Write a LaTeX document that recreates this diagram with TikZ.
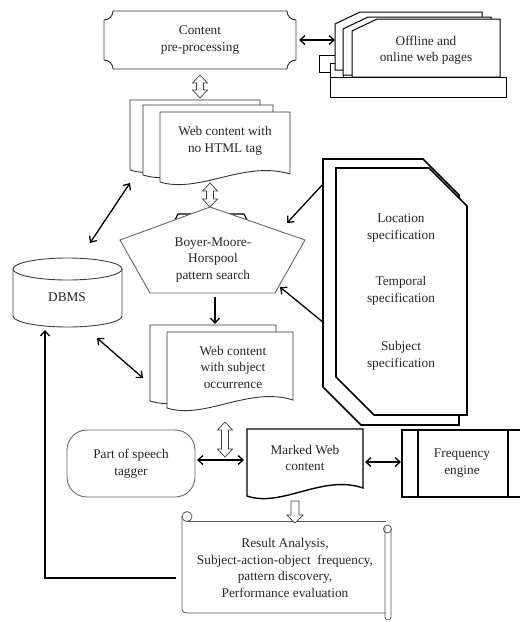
\documentclass[tikz,border=0pt]{standalone}
\usepackage{fontspec}
\setmainfont{Liberation Serif}
\usetikzlibrary{arrows.meta,calc}

\tikzset{
  lbl/.style={align=center, text=black!85, font=\fontsize{13.3}{16.5}\selectfont, inner sep=0pt},
  shp/.style={draw=black!80, fill=white, line width=0.9pt},
  heavy/.style={draw=black, fill=white, line width=1.6pt},
  link/.style={line width=1.3pt, {Straight Barb[length=5pt,width=9pt]}-{Straight Barb[length=5pt,width=9pt]}},
  linkto/.style={line width=1.3pt, -{Straight Barb[length=5pt,width=9pt]}},
  hollowboth/.style={draw=black!75, fill=white, line width=0.7pt, to path={
      let \p1=(\tikztostart), \p2=(\tikztotarget) in
      (\x1,\y1) -- (\x1+7.5pt,\y1-8pt) -- (\x1+3.5pt,\y1-8pt) -- (\x1+3.5pt,\y2+8pt)
      -- (\x1+7.5pt,\y2+8pt) -- (\x1,\y2) -- (\x1-7.5pt,\y2+8pt) -- (\x1-3.5pt,\y2+8pt)
      -- (\x1-3.5pt,\y1-8pt) -- (\x1-7.5pt,\y1-8pt) -- cycle}},
  hollowdown/.style={draw=black!75, fill=white, line width=0.7pt, to path={
      let \p1=(\tikztostart), \p2=(\tikztotarget) in
      (\x1-4pt,\y1) -- (\x1+4pt,\y1) -- (\x1+4pt,\y2+8pt) -- (\x1+8pt,\y2+8pt) -- (\x1,\y2)
      -- (\x1-8pt,\y2+8pt) -- (\x1-4pt,\y2+8pt) -- cycle}},
}

% page with a wavy lower edge
\newcommand{\docpage}[5][shp]{%
  \path[#1] (#2,#3) -- (#4,#3) -- (#4,#5)
    .. controls ({#4-0.35*(#4-#2)},{#5-14}) and ({#2+0.3*(#4-#2)},{#5+20}) .. (#2,{#5+8}) -- cycle;}

\begin{document}
\begin{tikzpicture}[x=1pt, y=-1pt]
    \useasboundingbox (0,0) rectangle (520,622);

    % Content pre-processing (plaque)
    \path[shp] (113,11) -- (287,11) arc[start angle=180, end angle=90, radius=9]
        -- (296,60) arc[start angle=270, end angle=180, radius=9]
        -- (113,69) arc[start angle=0, end angle=-90, radius=9]
        -- (104,20) arc[start angle=90, end angle=0, radius=9] -- cycle;
    \node[lbl] (prep) at (200,40) {Content\\pre-processing};

    % Offline and online web pages (stacked cards)
    \path[shp, draw=black, line width=1pt] (319,55) rectangle (335,72);
    \path[shp, draw=black, line width=1pt] (330,63) rectangle (343,77);
    \path[shp, draw=black, line width=1pt] (335,24) -- (360,12) -- (482,12) -- (482,70) -- (335,70) -- cycle;
    \path[shp, draw=black, line width=1pt] (343,29) -- (368,17) -- (491,17) -- (491,75) -- (343,75) -- cycle;
    \path[shp, draw=black, line width=1pt] (352,31) -- (377,19) -- (500,19) -- (500,77) -- (352,77) -- cycle;
    \path[shp, draw=black, line width=1pt] (330,77) rectangle (506,97);
    \node[lbl] (web) at (426,50) {Offline and\\online web pages};

    \coordinate (prepR) at (299,40);
    \coordinate (webL) at (335,40);
    \draw[link] (prepR) -- (webL);

    % Web content with no HTML tag
    \docpage{130}{100}{260}{162}
    \docpage{143}{105}{273}{167}
    \docpage{160}{112}{290}{174}
    \node[lbl] (clean) at (225,141) {Web content with\\no HTML tag};

    \coordinate (prepB) at (200,75);
    \coordinate (cleanT) at (200,98);
    \path[hollowboth] (prepB) to (cleanT);

    % Boyer-Moore-Horspool pentagon
    \draw[line width=1.3pt] (174,222) -- (178,214) -- (244,214) -- (248,222);
    \path[shp, draw=black!60] (210,207) -- (305,240) -- (275,293) -- (150,293) -- (120,240) -- cycle;
    \node[lbl] (bmh) at (213,260) {Boyer-Moore-\\Horspool\\pattern search};

    \coordinate (cleanB) at (210,183);
    \coordinate (bmhT) at (210,207);
    \path[hollowboth] (cleanB) to (bmhT);

    % DBMS
    \path[shp, draw=black!75] (13,269) -- (13,316) arc[start angle=180, end angle=0, x radius=54.5, y radius=11] -- (122,269);
    \draw[black!75, line width=0.9pt] (67.5,269) ellipse[x radius=54.5, y radius=11];
    \node[lbl] (dbms) at (67,297) {DBMS};

    % Location / temporal / subject specification
    \path[heavy] (323,159) -- (423,159) -- (459,195) -- (459,425) -- (361,425) -- (323,387) -- cycle;
    \path[heavy] (336,168) -- (429,168) -- (467,206) -- (467,415) -- (374,415) -- (336,377) -- cycle;
    \node[lbl] (loc) at (401,228) {Location\\specification};
    \node[lbl] (temp) at (401,291) {Temporal\\specification};
    \node[lbl] (subj) at (401,356) {Subject\\specification};

    \coordinate (specA) at (324,183);
    \coordinate (bmhA) at (287,223);
    \coordinate (specB) at (324,323);
    \coordinate (bmhB) at (280,287);
    \draw[linkto] (specA) -- (bmhA);
    \draw[linkto] (specB) -- (bmhB);

    % Web content with subject occurrence
    \docpage{150}{325}{276}{393}
    \docpage{167}{332}{293}{400}
    \node[lbl] (occ) at (233,367) {Web content\\with subject\\occurrence};

    \coordinate (bmhD) at (215,297);
    \coordinate (occT) at (215,324);
    \draw[linkto] (bmhD) -- (occT);

    % DBMS links
    \coordinate (dbmsA) at (90,243);
    \coordinate (cleanL) at (130,183);
    \coordinate (dbmsB) at (97,338);
    \coordinate (occL) at (143,378);
    \draw[link] (dbmsA) -- (cleanL);
    \draw[link] (dbmsB) -- (occL);

    % Part of speech tagger, marked content, frequency engine
    \node[lbl, shp, draw=black!60, rounded corners=20pt, minimum width=128pt, minimum height=67pt]
        (pos) at (131,463.5) {Part of speech\\tagger};
    \docpage[heavy, line width=1.4pt]{247}{429}{363}{488}
    \node[lbl] (marked) at (305,458) {Marked Web\\content};
    \path[heavy, line width=1.4pt] (402,430) rectangle (530,497);
    \draw[line width=1.4pt] (418,430) -- (418,497) (508,430) -- (508,497);
    \node[lbl] (freq) at (462,463) {Frequency\\engine};

    \coordinate (occB) at (225,422);
    \coordinate (markedT) at (225,457);
    \path[hollowboth] (occB) to (markedT);

    \coordinate (posR) at (197,460);
    \coordinate (markedL) at (244,460);
    \coordinate (markedR) at (365,462);
    \coordinate (freqL) at (401,462);
    \draw[link] (posR) -- (markedL);
    \draw[link] (markedR) -- (freqL);

    % Result analysis (scroll)
    \path[draw=black!65, line width=0.8pt, rounded corners=4pt] (182,516) -- (182,613) -- (386,613);
    \draw[black!65, line width=0.8pt] (187,521.5) -- (386,521.5);
    \path[draw=black!65, line width=0.8pt, rounded corners=3pt] (385,527) -- (385,620) -- (391,620) -- (391,529);
    \draw[black!65, line width=0.8pt] (387.5,529) circle[radius=4];
    \draw[black!65, line width=0.8pt] (187,516.5) circle[radius=5];
    \node[lbl] (result) at (285,568) {Result Analysis,\\Subject-action-object\ \ frequency,\\pattern discovery,\\Performance evaluation};

    \coordinate (markedB) at (295,501);
    \coordinate (resultT) at (295,523);
    \path[hollowdown] (markedB) to (resultT);

    % back to DBMS
    \coordinate (resultL) at (176,578);
    \coordinate (dbmsD) at (45,330);
    \draw[linkto] (resultL) -| (dbmsD);
\end{tikzpicture}
\end{document}
